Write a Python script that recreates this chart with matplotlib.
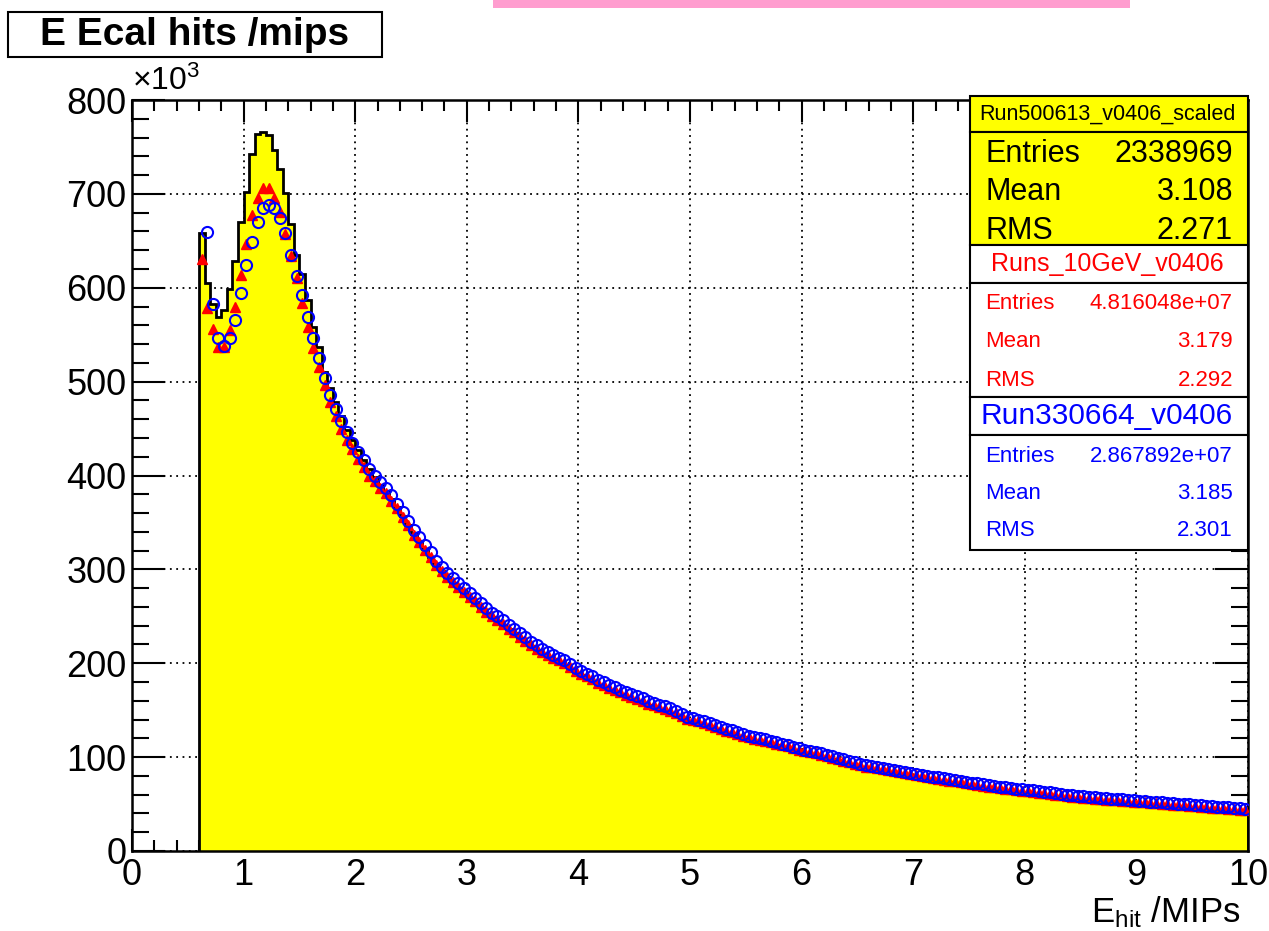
import numpy as np
import matplotlib.pyplot as plt
from matplotlib.patches import Rectangle
from matplotlib.ticker import MultipleLocator

plt.rcParams['font.family'] = ['Liberation Sans', 'DejaVu Sans']
plt.rcParams['mathtext.fontset'] = 'custom'
plt.rcParams['mathtext.rm'] = 'Liberation Sans'
plt.rcParams['mathtext.it'] = 'Liberation Sans'

# binning: 0.05 MIP bins from 0.6 to 10
bin_lo = 0.6
bin_width = 0.05

# counts in units of 1e3
# Run500613_v0406_scaled (yellow histogram)
black = [658, 605, 583, 569, 576, 599, 629, 670, 702, 743,
         764, 766, 763, 747, 726, 701, 668, 635, 615, 587,
         558, 537, 510, 493, 478, 463, 449, 438, 427, 417,
         407, 398, 390, 383, 375, 366, 357, 347, 338, 330,
         322, 313, 305, 298, 292, 286, 280, 275, 270, 265,
         259, 254, 249, 245, 241, 236, 232, 227, 223, 218,
         214, 210, 207, 204, 201, 198, 194, 190, 187, 184,
         181, 177, 175, 172, 170, 167, 164, 162, 160, 158,
         155, 153, 151, 149, 147, 145, 142, 139, 138, 136,
         134, 132, 130, 128, 126, 124.5, 123, 121, 119, 117.5,
         116, 115.5, 114, 112.5, 111, 109.5, 107.5, 106, 104.5, 103.5,
         102, 100.5, 99, 97.5, 95.5, 94, 92.5, 91, 89.5, 88,
         87, 86, 85, 84, 83, 82, 80.7, 79.5, 78.5, 77.5,
         76.5, 75.5, 74.8, 73.9, 73, 72.1, 71.2, 70.3, 69.4, 68.5,
         67.6, 66.7, 65.9, 65.1, 64.4, 63.7, 63, 62.3, 61.6, 61,
         60.3, 59.6, 58.9, 58, 57.2, 56.4, 55.7, 55.2, 54.7, 54.2,
         53.7, 53.3, 52.8, 52.4, 51.9, 51.5, 51, 50.6, 50.1, 49.7,
         49.2, 48.8, 48.3, 47.9, 47.5, 47, 46.6, 46.1, 45.7, 45.2,
         44.7, 44.3, 43.8, 43.4, 42.9, 42.5, 42, 41.6]

# Runs_10GeV_v0406 (red triangles)
red = [631, 578, 556, 537, 537, 555, 580, 614, 647, 677,
       696, 706, 706, 696, 681, 657, 634, 610, 584, 558,
       536, 516, 496, 478, 463, 450, 438, 428, 418, 409,
       400, 394, 387, 381, 373, 365, 356, 347, 337, 329,
       321, 313, 305, 298, 292, 287, 281, 276, 271, 266,
       260, 255, 250, 246, 242, 237, 233, 228, 224, 219,
       215, 212, 209, 206, 203, 200, 196, 192, 189, 186,
       183, 179, 177, 174, 172, 169, 166, 164, 162, 160,
       157, 155, 153, 151, 149, 147, 144, 141, 140, 138,
       136, 134, 132, 130, 128, 126.5, 125, 123, 121, 119.5,
       118, 117.5, 116, 114.5, 113, 111.5, 109.5, 108, 106.5, 105.5,
       104, 102.5, 101, 99.5, 97.5, 96, 94.5, 93, 91.5, 90,
       89, 88, 87, 86, 85, 84, 82.7, 81.5, 80.5, 79.5,
       78.5, 77.5, 76.8, 75.9, 75, 74.1, 73.2, 72.3, 71.4, 70.5,
       69.6, 68.7, 67.9, 67.1, 66.4, 65.7, 65, 64.3, 63.6, 63,
       62.3, 61.6, 60.9, 60, 59.2, 58.4, 57.7, 57.2, 56.7, 56.2,
       55.7, 55.3, 54.8, 54.4, 53.9, 53.5, 53, 52.6, 52.1, 51.7,
       51.2, 50.8, 50.3, 49.9, 49.5, 49, 48.6, 48.1, 47.7, 47.2,
       46.7, 46.3, 45.8, 45.4, 44.9, 44.5, 44, 43.6]

# Run330664_v0406 (blue open circles), starts one bin later
blue = [659, 583, 547, 538, 547, 566, 594, 624, 649, 670,
        685, 688, 685, 674, 658, 635, 613, 592, 569, 547,
        525, 504, 486, 471, 458, 446, 435, 425, 416, 407,
        400, 393, 387, 379, 370, 361, 352, 342, 334, 326,
        318, 309, 302, 296, 291, 285, 280, 275, 270, 264,
        259, 254, 250, 246, 241, 237, 232, 228, 223, 219,
        215, 212, 209, 206, 203, 199, 195, 192, 189, 186,
        182, 180, 177, 175, 172, 169, 167, 165, 163, 160,
        158, 156, 154, 152, 149, 146, 143, 142, 140, 138,
        136, 134, 132, 130, 128.5, 127, 125, 123, 121.5, 120,
        119, 117.5, 116, 114.5, 113, 111, 109.5, 108, 107, 105.5,
        104, 102.5, 101, 99, 97.5, 96, 94.5, 93, 91.5, 90.5,
        89.5, 88.5, 87.5, 86.5, 85.5, 84.2, 83, 82, 81, 80,
        79, 78.3, 77.4, 76.5, 75.6, 74.7, 73.8, 72.9, 72, 71.1,
        70.2, 69.4, 68.6, 67.9, 67.2, 66.5, 65.8, 65.1, 64.5, 63.8,
        63.1, 62.4, 61.5, 60.7, 59.9, 59.2, 58.7, 58.2, 57.7, 57.2,
        56.8, 56.3, 55.9, 55.4, 55, 54.5, 54.1, 53.6, 53.2, 52.7,
        52.3, 51.8, 51.4, 51, 50.5, 50.1, 49.6, 49.2, 48.7, 48.2,
        47.8, 47.3, 46.9, 46.4, 46, 45.5, 45.1]

stats_names = ['Run500613_v0406_scaled', 'Runs_10GeV_v0406', 'Run330664_v0406']
stats_entries = ['2338969', '4.816048e+07', '2.867892e+07']
stats_mean = ['3.108', '3.179', '3.185']
stats_rms = ['2.271', '2.292', '2.301']

edges = bin_lo + bin_width * np.arange(len(black) + 1)
centers = 0.5 * (edges[:-1] + edges[1:])

W, H = 1269, 931
fig = plt.figure(figsize=(W / 100, H / 100), dpi=100)


def fx(px):
    return px / W


def fy(py):
    return 1 - py / H


ax = fig.add_axes([fx(132), fy(851), fx(1248) - fx(132), fy(100) - fy(851)])

ax.stairs(black, edges, fill=True, color='#ffff00', zorder=2)
ax.stairs(black, edges, baseline=0, color='black', lw=2, zorder=3)
ax.plot(centers, red, '^', color='red', ms=6.5, mec='red', zorder=4)
ax.plot(centers[1:], blue, 'o', mfc='none', mec='blue', ms=8, mew=1.5, zorder=5)

ax.set_xlim(0, 10)
ax.set_ylim(0, 800)
ax.xaxis.set_major_locator(MultipleLocator(1))
ax.xaxis.set_minor_locator(MultipleLocator(0.2))
ax.yaxis.set_major_locator(MultipleLocator(100))
ax.yaxis.set_minor_locator(MultipleLocator(20))
ax.set_axisbelow(True)
ax.grid(True, which='major', color='black', ls=(0, (1, 2.5)), lw=1.3)
ax.tick_params(which='both', direction='in', top=True, right=True, width=1.5, labelsize=26)
ax.tick_params(axis='y', which='major', length=24, pad=4)
ax.tick_params(axis='y', which='minor', length=12)
ax.tick_params(axis='x', which='major', length=16, pad=5)
ax.tick_params(axis='x', which='minor', length=8)
for s in ax.spines.values():
    s.set_linewidth(1.8)

fig.text(fx(132), fy(97), r'$\mathregular{\times10^{3}}$', fontsize=23, va='bottom', ha='left')
fig.text(fx(1240), fy(922), r'$\mathregular{E_{hit}}$ /MIPs', fontsize=25, ha='right', va='baseline')

# title box
fig.add_artist(Rectangle((fx(8), fy(57)), fx(382) - fx(8), fy(12) - fy(57),
                         transform=fig.transFigure, fc='white', ec='black', lw=1.5))
fig.text(fx(195), fy(35), 'E Ecal hits /mips', fontsize=28, fontweight='bold', ha='center', va='center')

# pink strip at the top
fig.add_artist(Rectangle((fx(493), fy(8)), fx(1130) - fx(493), fy(0) - fy(8),
                         transform=fig.transFigure, fc='#ff9dcf', ec='none'))


def box(x0, y0, x1, y1, fc):
    fig.add_artist(Rectangle((fx(x0), fy(y1)), fx(x1) - fx(x0), fy(y0) - fy(y1),
                             transform=fig.transFigure, fc=fc, ec='black', lw=1.5, zorder=6))


bx0, bx1 = 970, 1248
tl, tr = 985, 1233
# first (yellow) stats box
box(bx0, 96, bx1, 132, '#ffff00')
box(bx0, 132, bx1, 245, '#ffff00')
fig.text(fx(1107), fy(114), stats_names[0], fontsize=15.5, ha='center', va='center', zorder=7)
for row, (lab, val) in enumerate(zip(['Entries', 'Mean', 'RMS'],
                                     [stats_entries[0], stats_mean[0], stats_rms[0]])):
    yy = 154 + 38.5 * row
    fig.text(fx(tl), fy(yy), lab, fontsize=22, ha='left', va='center', zorder=7)
    fig.text(fx(tr), fy(yy), val, fontsize=22, ha='right', va='center', zorder=7)

# red stats box
box(bx0, 245, bx1, 283, 'white')
box(bx0, 283, bx1, 397, 'white')
fig.text(fx(1107), fy(264), stats_names[1], fontsize=18, color='red', ha='center', va='center', zorder=7)
for row, (lab, val) in enumerate(zip(['Entries', 'Mean', 'RMS'],
                                     [stats_entries[1], stats_mean[1], stats_rms[1]])):
    yy = 303 + 38.5 * row
    fig.text(fx(tl), fy(yy), lab, fontsize=16, color='red', ha='left', va='center', zorder=7)
    fig.text(fx(tr), fy(yy), val, fontsize=16, color='red', ha='right', va='center', zorder=7)

# blue stats box
box(bx0, 397, bx1, 435, 'white')
box(bx0, 435, bx1, 550, 'white')
fig.text(fx(1107), fy(416), stats_names[2], fontsize=21.5, color='blue', ha='center', va='center', zorder=7)
for row, (lab, val) in enumerate(zip(['Entries', 'Mean', 'RMS'],
                                     [stats_entries[2], stats_mean[2], stats_rms[2]])):
    yy = 456 + 37.5 * row
    fig.text(fx(tl), fy(yy), lab, fontsize=16, color='blue', ha='left', va='center', zorder=7)
    fig.text(fx(tr), fy(yy), val, fontsize=16, color='blue', ha='right', va='center', zorder=7)

fig.savefig('out.png', dpi=100)
